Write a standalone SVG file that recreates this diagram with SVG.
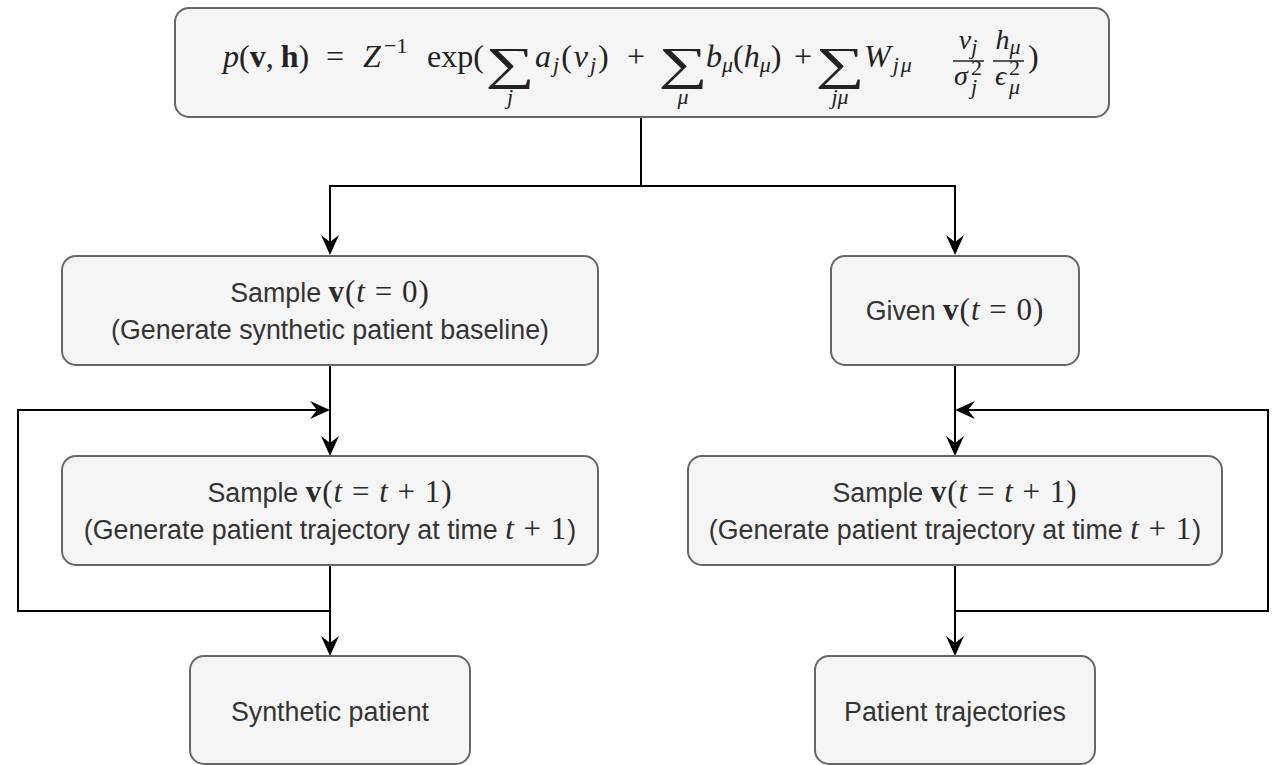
<svg xmlns="http://www.w3.org/2000/svg" width="1276" height="765" viewBox="0 0 1276 765">
<style>
.box{fill:#f5f5f5;stroke:#666666;stroke-width:2}
.t{font-family:"Liberation Sans",Arial,sans-serif;font-size:26.8px;fill:#333333}
.m{font-family:"Liberation Serif","Times New Roman","DejaVu Serif",serif;font-size:32px;fill:#222222}
.mm{font-family:"Liberation Serif","Times New Roman","DejaVu Serif",serif;font-size:31px;fill:#2a2a2a;letter-spacing:1px}
.i{font-style:italic}
.b{font-weight:bold}
.s{font-size:22px}
.f{font-size:28px}
.big{font-size:46px}
.edge{fill:none;stroke:#000000;stroke-width:2}
</style>
<defs>
<marker id="arr" markerUnits="userSpaceOnUse" markerWidth="20" markerHeight="20" viewBox="0 0 20 20" refX="7" refY="10" orient="auto">
<path d="M0,1 L20,10 L0,19 L7,10 Z" fill="#000000"/>
</marker>
</defs>
<rect width="1276" height="765" fill="#ffffff"/>

<g id="connectors">
<path class="edge" d="M641,117 V186 H330 V242" marker-end="url(#arr)"/>
<path class="edge" d="M641,186 H955 V242" marker-end="url(#arr)"/>
<path class="edge" d="M330,365 V443" marker-end="url(#arr)"/>
<path class="edge" d="M330,565 V611 H18 V410 H317" marker-end="url(#arr)"/>
<path class="edge" d="M330,565 V643" marker-end="url(#arr)"/>
<path class="edge" d="M955,365 V443" marker-end="url(#arr)"/>
<path class="edge" d="M955,565 V611 H1268 V410 H968" marker-end="url(#arr)"/>
<path class="edge" d="M955,565 V643" marker-end="url(#arr)"/>
</g>

<g id="formula">
<rect class="box" x="175" y="8" width="934" height="109" rx="14"/>
<text class="m" x="223" y="67"><tspan class="i">p</tspan>(<tspan class="b">v</tspan>,<tspan dx="7" class="b">h</tspan>)</text>
<text class="m" x="326" y="67">=</text>
<text class="m i" x="363" y="67">Z</text>
<text class="m s" x="384" y="53">−1</text>
<text class="m" x="427" y="67">exp(</text>
<text class="m big" transform="translate(510,79) scale(1.5,1)" text-anchor="middle">∑</text>
<text class="m i s" x="510" y="104" text-anchor="middle">j</text>
<text class="m" x="535" y="67" letter-spacing="2"><tspan class="i">a</tspan><tspan class="i s" dy="5">j</tspan><tspan dy="-5">(</tspan><tspan class="i">v</tspan><tspan class="i s" dy="5">j</tspan><tspan dy="-5">)</tspan></text>
<text class="m" x="627" y="67">+</text>
<text class="m big" transform="translate(683,79) scale(1.5,1)" text-anchor="middle">∑</text>
<text class="m i s" x="683" y="104" text-anchor="middle">μ</text>
<text class="m" x="706" y="67"><tspan class="i">b</tspan><tspan class="i s" dy="5">μ</tspan><tspan dy="-5">(</tspan><tspan class="i">h</tspan><tspan class="i s" dy="5">μ</tspan><tspan dy="-5">)</tspan></text>
<text class="m" x="794" y="67">+</text>
<text class="m big" transform="translate(840,79) scale(1.5,1)" text-anchor="middle">∑</text>
<text class="m i s" x="840" y="104" text-anchor="middle">jμ</text>
<text class="m" x="864" y="67" letter-spacing="2"><tspan class="i">W</tspan><tspan class="i s" dy="5">jμ</tspan></text>
<text class="m i f" x="968" y="49" text-anchor="middle">v<tspan class="s" dy="5">j</tspan></text>
<line x1="953" y1="61" x2="984" y2="61" stroke="#222222" stroke-width="1.5"/>
<text class="m i f" x="954" y="85">σ</text>
<text class="m s" x="971" y="75">2</text>
<text class="m i s" x="971" y="94">j</text>
<text class="m i f" x="1008" y="49" text-anchor="middle">h<tspan class="s" dy="5">μ</tspan></text>
<line x1="993" y1="61" x2="1024" y2="61" stroke="#222222" stroke-width="1.5"/>
<text class="m i f" x="995" y="85">ϵ</text>
<text class="m s" x="1009" y="75">2</text>
<text class="m i s" x="1009" y="94">μ</text>
<text class="m" x="1028" y="67">)</text>
</g>

<g id="sample0">
<rect class="box" x="62" y="256" width="536" height="109" rx="14"/>
<text class="t" x="330" y="302" text-anchor="middle">Sample <tspan class="mm b">v</tspan><tspan class="mm">(</tspan><tspan class="mm i">t</tspan><tspan class="mm"> = 0)</tspan></text>
<text class="t" x="330" y="339" text-anchor="middle">(Generate synthetic patient baseline)</text>
</g>

<g id="given0">
<rect class="box" x="831" y="256" width="248" height="109" rx="14"/>
<text class="t" x="955" y="320" text-anchor="middle">Given <tspan class="mm b">v</tspan><tspan class="mm">(</tspan><tspan class="mm i">t</tspan><tspan class="mm"> = 0)</tspan></text>
</g>

<g id="sampleL">
<rect class="box" x="62" y="456" width="536" height="109" rx="14"/>
<text class="t" x="330" y="502" text-anchor="middle">Sample <tspan class="mm b">v</tspan><tspan class="mm">(</tspan><tspan class="mm i">t</tspan><tspan class="mm"> = </tspan><tspan class="mm i">t</tspan><tspan class="mm"> + 1)</tspan></text>
<text class="t" x="330" y="539" text-anchor="middle">(Generate patient trajectory at time <tspan class="mm i">t</tspan><tspan class="mm"> + 1</tspan>)</text>
</g>

<g id="sampleR">
<rect class="box" x="688" y="456" width="534" height="109" rx="14"/>
<text class="t" x="955" y="502" text-anchor="middle">Sample <tspan class="mm b">v</tspan><tspan class="mm">(</tspan><tspan class="mm i">t</tspan><tspan class="mm"> = </tspan><tspan class="mm i">t</tspan><tspan class="mm"> + 1)</tspan></text>
<text class="t" x="955" y="539" text-anchor="middle">(Generate patient trajectory at time <tspan class="mm i">t</tspan><tspan class="mm"> + 1</tspan>)</text>
</g>

<g id="synthetic">
<rect class="box" x="190" y="656" width="280" height="108" rx="14"/>
<text class="t" x="330" y="721" text-anchor="middle">Synthetic patient</text>
</g>

<g id="trajectories">
<rect class="box" x="815" y="656" width="280" height="108" rx="14"/>
<text class="t" x="955" y="721" text-anchor="middle">Patient trajectories</text>
</g>
</svg>
